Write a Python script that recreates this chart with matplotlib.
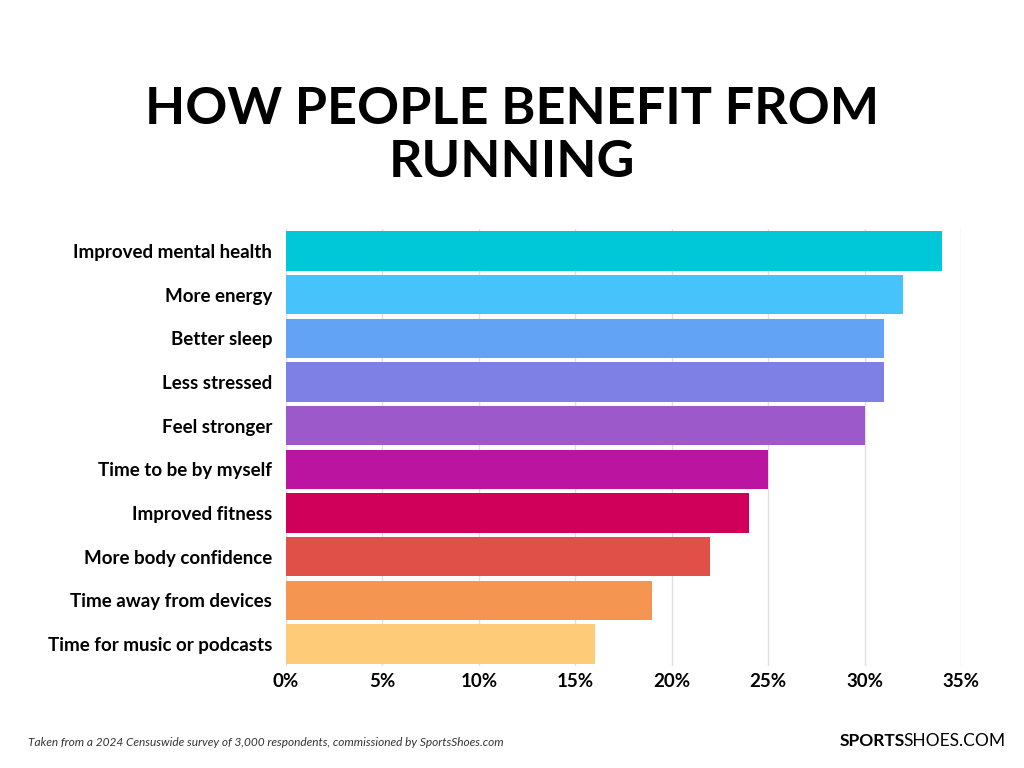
import numpy as np
import matplotlib.pyplot as plt

# datos
categorias = ['Improved mental health', 'More energy', 'Better sleep', 'Less stressed',
              'Feel stronger', 'Time to be by myself', 'Improved fitness',
              'More body confidence', 'Time away from devices', 'Time for music or podcasts']
valores = [34, 32, 31, 31, 30, 25, 24, 22, 19, 16]
colores = ['#00C8D8', '#45C3FA', '#62A3F5', '#7E80E5', '#9B59C9',
           '#BA14A0', '#D0005A', '#E05048', '#F59552', '#FECB78']
ticks = [0, 5, 10, 15, 20, 25, 30, 35]

plt.rcParams['font.family'] = ['Lato', 'DejaVu Sans']

fig = plt.figure(figsize=(10.24, 7.68), dpi=100)
ax = fig.add_axes([286 / 1024, 1 - 666 / 768, 675 / 1024, 437 / 768])

y = np.arange(len(categorias))[::-1]
ax.barh(y, valores, height=0.9, color=colores, zorder=3)

ax.set_xlim(0, 35)
ax.set_ylim(-0.5, len(categorias) - 0.5)
ax.set_xticks(ticks)
ax.set_xticklabels([f'{t}%' for t in ticks], fontsize=13.5, fontweight='bold')
ax.set_yticks(y)
ax.set_yticklabels(categorias, fontsize=13.5, fontweight='bold')
ax.tick_params(length=0, pad=10)
ax.tick_params(axis='x', pad=5)
ax.grid(axis='x', color='#e0e0e0', linewidth=1, zorder=0)
for s in ax.spines.values():
    s.set_visible(False)

fig.text(0.5, 1 - 136 / 768, 'HOW PEOPLE BENEFIT FROM\nRUNNING', ha='center', va='center',
         fontsize=37.5, fontweight='bold', linespacing=1.15)

fig.text(28 / 1024, 1 - 743 / 768,
         'Taken from a 2024 Censuswide survey of 3,000 respondents, commissioned by SportsShoes.com',
         fontsize=8.6, style='italic', color='#333333', va='center')

t1 = fig.text(840 / 1024, 1 - 741 / 768, 'SPORTS', fontsize=12.5, fontweight='bold', va='center')
fig.canvas.draw()
bb = t1.get_window_extent()
fig.text((bb.x1 - 2) / 1024, 1 - 741 / 768, 'SHOES.COM', fontsize=12.5, va='center')

fig.savefig('out.png', dpi=100)
